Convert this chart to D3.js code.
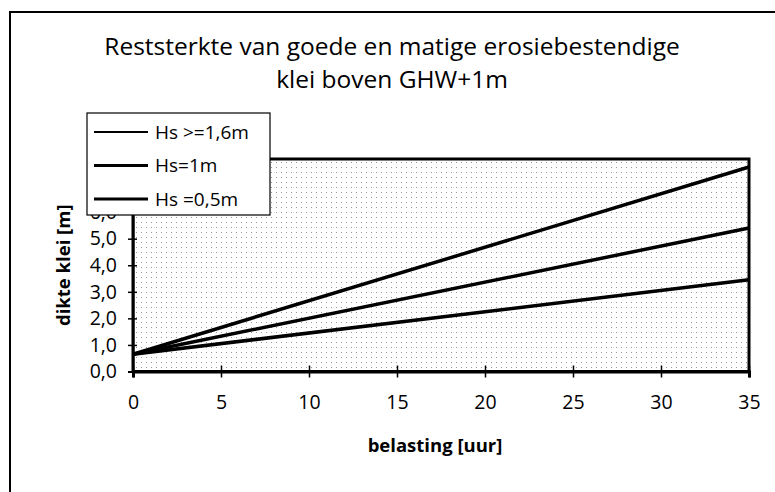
<!DOCTYPE html>
<html>
<head>
<meta charset="utf-8">
<script src="https://cdn.jsdelivr.net/npm/d3@7"></script>
<style>
  body { margin: 0; background: #fff; }
  svg text { font-family: "Open Sans", sans-serif; fill: #000; }
</style>
</head>
<body>
<div id="chart"></div>
<script>
// data
const hours = [0, 35];
const seriesNames = ["Hs >=1,6m", "Hs=1m", "Hs =0,5m"];
const hsHigh = [0.65, 7.7];
const hsMid = [0.65, 5.4];
const hsLow = [0.65, 3.45];
const xTicks = [0, 5, 10, 15, 20, 25, 30, 35];
const yTicks = [0, 1, 2, 3, 4, 5, 6, 7, 8];
const titleLines = ["Reststerkte van goede en matige erosiebestendige", "klei boven GHW+1m"];
const xTitle = "belasting [uur]";
const yTitle = "dikte klei [m]";

const width = 775, height = 492;
const margin = {top: 159, right: 26, bottom: 120.5, left: 133};

const series = [hsHigh, hsMid, hsLow].map((vals, i) => ({
  name: seriesNames[i],
  points: hours.map((h, j) => ({x: h, y: vals[j]}))
}));

const nl = d3.formatLocale({decimal: ",", thousands: ".", grouping: [3], currency: ["€", ""]});

const x = d3.scaleLinear().domain([0, 35]).range([margin.left, width - margin.right]);
const y = d3.scaleLinear().domain([0, 8]).range([height - margin.bottom, margin.top]);

const svg = d3.select("#chart").append("svg")
  .attr("width", width)
  .attr("height", height);

// stipple fill like the scanned plot area
const defs = svg.append("defs");
const pat = defs.append("pattern")
  .attr("id", "stipple")
  .attr("width", 5).attr("height", 5)
  .attr("patternUnits", "userSpaceOnUse");
pat.append("rect").attr("width", 5).attr("height", 5).attr("fill", "#fff");
pat.append("rect").attr("x", 1).attr("y", 2).attr("width", 1).attr("height", 1).attr("fill", "#999");

// outer frame (runs off the right and bottom edges)
svg.append("rect")
  .attr("x", 10).attr("y", 12)
  .attr("width", 800).attr("height", 520)
  .attr("fill", "none")
  .attr("stroke", "#000")
  .attr("stroke-width", 2);

// title
svg.append("g").selectAll("text").data(titleLines)
  .join("text")
  .attr("x", 392)
  .attr("y", (d, i) => 55 + i * 33)
  .attr("text-anchor", "middle")
  .attr("font-size", 24.5)
  .text(d => d);

// plot area
svg.append("rect")
  .attr("x", x(0)).attr("y", y(8))
  .attr("width", x(35) - x(0))
  .attr("height", y(0) - y(8))
  .attr("fill", "url(#stipple)")
  .attr("stroke", "#000")
  .attr("stroke-width", 3);

// axes with ticks crossing the axis line
const xAxis = svg.append("g")
  .attr("transform", `translate(0, ${y(0)})`)
  .call(d3.axisBottom(x).tickValues(xTicks).tickSize(6).tickPadding(18).tickFormat(d3.format("d")));
xAxis.select(".domain").attr("stroke-width", 3);
xAxis.selectAll(".tick line").attr("y1", -6).attr("stroke-width", 1.5);
xAxis.selectAll(".tick text").attr("font-size", 19.5).attr("font-family", "Open Sans");

const yAxis = svg.append("g")
  .attr("transform", `translate(${x(0)}, 0)`)
  .call(d3.axisLeft(y).tickValues(yTicks).tickSize(5).tickPadding(11).tickFormat(nl.format(".1f")));
yAxis.select(".domain").attr("stroke-width", 2);
yAxis.selectAll(".tick line").attr("x1", 4).attr("stroke-width", 1.5);
yAxis.selectAll(".tick text").attr("font-size", 19.5).attr("font-family", "Open Sans");

// axis titles
svg.append("text")
  .attr("x", (x(0) + x(35)) / 2 - 6)
  .attr("y", 452)
  .attr("text-anchor", "middle")
  .attr("font-size", 18.5)
  .attr("font-weight", "bold")
  .text(xTitle);

svg.append("text")
  .attr("transform", `translate(70, ${y(4.0)}) rotate(-90)`)
  .attr("text-anchor", "middle")
  .attr("font-size", 18.5)
  .attr("font-weight", "bold")
  .text(yTitle);

// lines
const line = d3.line().x(d => x(d.x)).y(d => y(d.y));
svg.append("g").selectAll("path").data(series)
  .join("path")
  .attr("d", d => line(d.points))
  .attr("fill", "none")
  .attr("stroke", "#000")
  .attr("stroke-width", 3.5);

// legend box, drawn over the top left of the plot
const legend = svg.append("g").attr("transform", "translate(87, 113)");
legend.append("rect")
  .attr("width", 183).attr("height", 102)
  .attr("fill", "#fff")
  .attr("stroke", "#000")
  .attr("stroke-width", 1.2);
const item = legend.selectAll("g.item").data(series)
  .join("g")
  .classed("item", true)
  .attr("transform", (d, i) => `translate(0, ${19 + i * 33.5})`);
item.append("line")
  .attr("x1", 7).attr("x2", 61)
  .attr("stroke", "#000")
  .attr("stroke-width", (d, i) => i === 0 ? 2 : 3);
item.append("text")
  .attr("x", 68)
  .attr("dy", "0.35em")
  .attr("font-size", 19)
  .text(d => d.name);
</script>
</body>
</html>
